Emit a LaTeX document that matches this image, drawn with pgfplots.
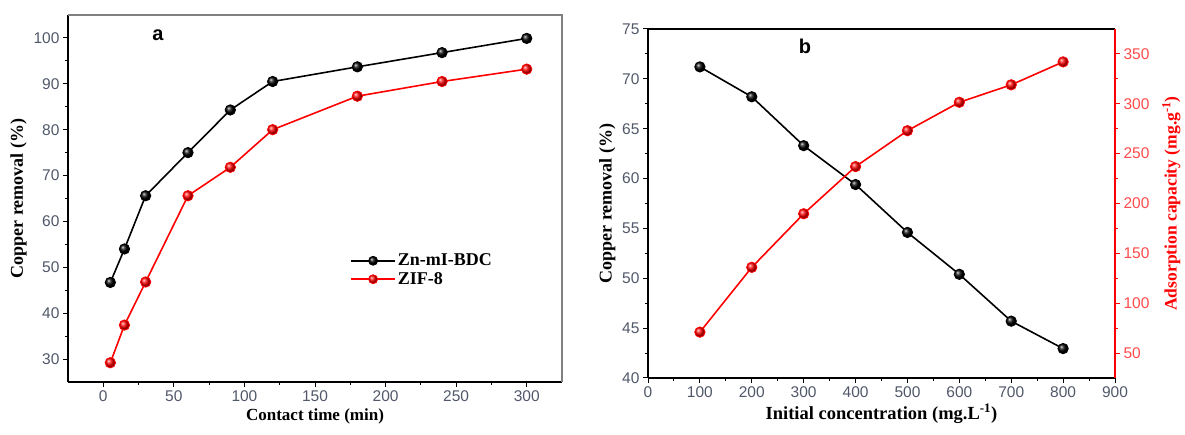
\documentclass[border=0pt]{standalone}
\usepackage{fontspec}
\setmainfont{Liberation Serif}
\newfontfamily\arial{Liberation Sans}
\usepackage{pgfplots}
\pgfplotsset{compat=1.18}
\definecolor{tickgrey}{RGB}{80,88,105}
\definecolor{redc}{RGB}{255,0,0}
\definecolor{redtick}{RGB}{255,75,75}
\pgfplotsset{
  common/.style={
    scale only axis,
    tick align=outside,
    minor tick num=1,
    major tick length=5pt,
    minor tick length=3pt,
    every tick/.style={black, line width=1pt},
    /pgf/number format/assume math mode=true,
    ticklabel style={font=\arial\fontsize{15.5}{17}\selectfont, text=tickgrey},
    label style={font=\bfseries\fontsize{17}{19}\selectfont},
    axis line style={line width=1.3pt},
    clip=false,
  },
  serk/.style={black, line width=1.6pt, mark=ball, mark size=5.2pt, mark options={ball color=black, line width=0.8pt}},
  serr/.style={redc, line width=1.6pt, mark=ball, mark size=5.2pt, mark options={ball color=redc, line width=0.8pt}},
}
\begin{document}
\begin{tikzpicture}
\useasboundingbox (0,0) rectangle (1185pt,435pt);
% ---------- panel a ----------
\begin{axis}[common,
  at={(68pt,53pt)}, anchor=south west,
  width=494pt, height=367pt,
  xmin=-25, xmax=325, ymin=25, ymax=105,
  xtick={0,50,...,300}, ytick={30,40,...,100},
  axis x line*=bottom, axis y line*=left,
  xlabel={Contact time (min)}, ylabel={Copper removal (\%)},
  ylabel style={font=\bfseries\fontsize{18}{20}\selectfont},
  legend style={draw=none, fill=none, at={(rel axis cs:0.565,0.36)}, anchor=north west,
    font=\bfseries\fontsize{18}{20}\selectfont, row sep=1pt},
  legend cell align=left,
  legend image code/.code={
    \draw[#1, mark=none] (0pt,0pt) -- (44pt,0pt);
    \draw[#1, only marks, mark size=4.5pt] plot coordinates {(22pt,0pt)};},
  after end axis/.code={\draw[gray, line width=1.3pt] (rel axis cs:0,1) -- (rel axis cs:1,1) -- (rel axis cs:1,0);},
]
\addplot[serk] coordinates {
(5,46.7) (15,54.0) (30,65.6) (60,75.0) (90,84.3) (120,90.5) (180,93.7) (240,96.8) (300,99.9)};
\addlegendentry{Zn-mI-BDC}
\addplot[serr] coordinates {
(5,29.2) (15,37.4) (30,46.8) (60,65.6) (90,71.8) (120,80.0) (180,87.3) (240,90.5) (300,93.2)};
\addlegendentry{ZIF-8}
\node[font=\arial\bfseries\fontsize{20}{22}\selectfont] at (rel axis cs:0.182,0.946) {a};
\end{axis}
% ---------- panel b ----------
\begin{axis}[common,
  at={(648pt,57pt)}, anchor=south west,
  width=467pt, height=349pt,
  xmin=0, xmax=900, ymin=40, ymax=75,
  xtick={0,100,...,900}, ytick={40,45,...,75},
  axis x line*=bottom, axis y line*=left,
  xlabel={Initial concentration (mg.L\textsuperscript{-1})}, ylabel={Copper removal (\%)},
  xlabel style={font=\bfseries\fontsize{18.5}{20}\selectfont},
  ylabel style={font=\bfseries\fontsize{18}{20}\selectfont},
  after end axis/.code={\draw[black, line width=1.3pt] (rel axis cs:0,1) -- (rel axis cs:1,1);},
]
\addplot[serk] coordinates {
(100,71.2) (200,68.2) (300,63.3) (400,59.4) (500,54.6) (600,50.4) (700,45.7) (800,42.95)};
\node[font=\arial\bfseries\fontsize{20}{22}\selectfont] at (rel axis cs:0.336,0.951) {b};
\end{axis}
\begin{axis}[common,
  at={(648pt,57pt)}, anchor=south west,
  width=467pt, height=349pt,
  xmin=0, xmax=900, ymin=25, ymax=375,
  ytick={50,100,...,350},
  axis x line=none, axis y line*=right,
  ytick pos=right, yticklabel pos=right,
  axis line style={redc, line width=1.3pt},
  every tick/.style={redc, line width=1pt},
  yticklabel style={text=redtick},
  ylabel={Adsorption capacity (mg.g\textsuperscript{-1})},
  ylabel style={text=redc, font=\bfseries\fontsize{17.5}{19}\selectfont, yshift=-6pt},
]
\addplot[serr] coordinates {
(100,71) (200,136) (300,189.7) (400,237) (500,273) (600,301.5) (700,319) (800,342)};
\end{axis}
\end{tikzpicture}
\end{document}
